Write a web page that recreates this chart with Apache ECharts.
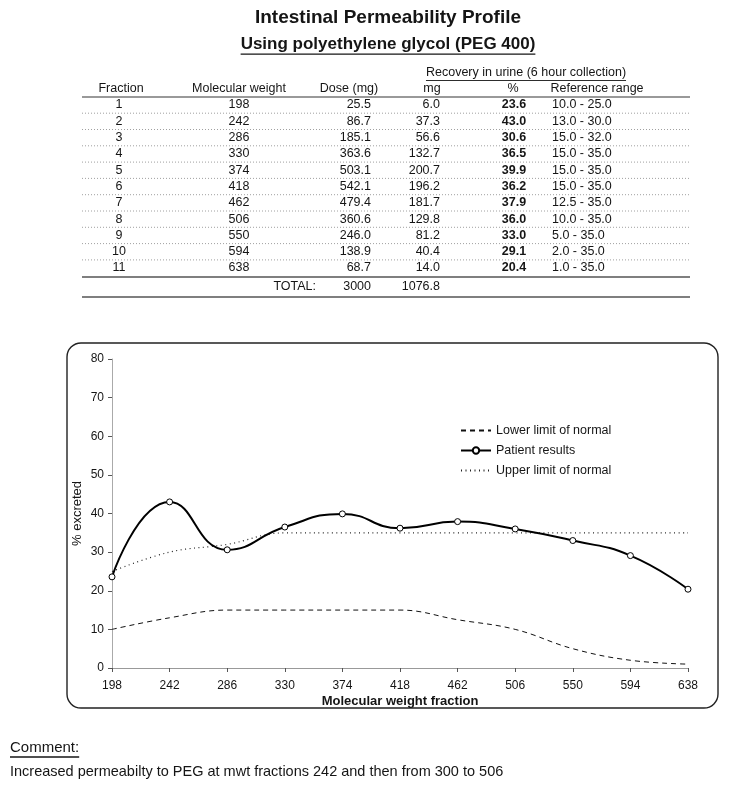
<!DOCTYPE html>
<html>
<head>
<meta charset="utf-8">
<script src="https://cdn.jsdelivr.net/npm/echarts@6/dist/echarts.min.js"></script>
<style>html,body{margin:0;padding:0;background:#fff}#c{width:731px;height:800px}</style>
</head>
<body>
<div id="c"></div>
<script>
// ---- data ----
const fractions = ['1','2','3','4','5','6','7','8','9','10','11'];
const molWeights = ['198','242','286','330','374','418','462','506','550','594','638'];
const doseMg = ['25.5','86.7','185.1','363.6','503.1','542.1','479.4','360.6','246.0','138.9','68.7'];
const recoveryMg = ['6.0','37.3','56.6','132.7','200.7','196.2','181.7','129.8','81.2','40.4','14.0'];
const recoveryPct = [23.6, 43.0, 30.6, 36.5, 39.9, 36.2, 37.9, 36.0, 33.0, 29.1, 20.4];
const refLow = [10.0, 13.0, 15.0, 15.0, 15.0, 15.0, 12.5, 10.0, 5.0, 2.0, 1.0];
const refHigh = [25.0, 30.0, 32.0, 35.0, 35.0, 35.0, 35.0, 35.0, 35.0, 35.0, 35.0];
const totalDose = '3000';
const totalRecovery = '1076.8';
const yTicks = [0, 10, 20, 30, 40, 50, 60, 70, 80];

const FONT = '"Liberation Sans", Arial, Helvetica, sans-serif';
const INK = '#151515';
const TS = 12.5; // table font size
const ctx = document.createElement('canvas').getContext('2d');
function tw(text, font){ ctx.font = font; return ctx.measureText(text).width; }

const g = [];
function txt(x, y, text, size, align, weight){
  g.push({type:'text', silent:true, style:{x:x, y:y, text:text, fill:INK,
    font:(weight||'normal') + ' ' + size + 'px ' + FONT,
    textAlign:align||'left', textVerticalAlign:'middle'}});
}
function hline(x1, x2, y, color, w, dash){
  g.push({type:'line', silent:true, shape:{x1:x1, y1:y, x2:x2, y2:y},
    style:{stroke:color, lineWidth:w, lineDash:dash||null}});
}
function underlined(cx, y, text, size, weight, align){
  const f = (weight||'normal') + ' ' + size + 'px ' + FONT;
  const w = tw(text, f);
  txt(cx, y, text, size, align||'center', weight);
  const x0 = (align === 'left') ? cx : cx - w/2;
  hline(x0, x0 + w, y + size*0.6, INK, size > 14 ? 1.3 : 0.9);
}

// titles
txt(388, 18, 'Intestinal Permeability Profile', 19, 'center', 'bold');
underlined(388, 44, 'Using polyethylene glycol (PEG 400)', 17, 'bold');
underlined(526, 73, 'Recovery in urine (6 hour collection)', TS);

// header
const hy = 89;
txt(121, hy, 'Fraction', TS, 'center');
txt(239, hy, 'Molecular weight', TS, 'center');
txt(349, hy, 'Dose (mg)', TS, 'center');
txt(432, hy, 'mg', TS, 'center');
txt(513, hy, '%', TS, 'center');
txt(597, hy, 'Reference range', TS, 'center');
const TL = 82, TR = 690;
hline(TL, TR, 97, '#777', 1.4);

const rowH = 16.3, row0 = 105;
for (let i = 0; i < fractions.length; i++){
  const y = row0 + i*rowH;
  txt(119, y, fractions[i], TS, 'center');
  txt(239, y, molWeights[i], TS, 'center');
  txt(371, y, doseMg[i], TS, 'right');
  txt(440, y, recoveryMg[i], TS, 'right');
  txt(514, y, recoveryPct[i].toFixed(1), TS, 'center', 'bold');
  txt(552, y, refLow[i].toFixed(1) + ' - ' + refHigh[i].toFixed(1), TS, 'left');
  if (i < fractions.length - 1) hline(TL, TR, y + 8.2, '#888', 0.8, [1, 2]);
}
const lastY = row0 + (fractions.length - 1)*rowH;
hline(TL, TR, lastY + 9, '#555', 1.4);
txt(316, lastY + 19, 'TOTAL:', TS, 'right');
txt(371, lastY + 19, totalDose, TS, 'right');
txt(440, lastY + 19, totalRecovery, TS, 'right');
hline(TL, TR, lastY + 29, '#555', 1.4);

// chart frame
g.push({type:'rect', silent:true, shape:{x:67, y:343, width:651, height:365, r:14},
  style:{fill:null, stroke:'#222', lineWidth:1.4}, z:-1});

// comment
underlined(10, 748, 'Comment:', 15, 'normal', 'left');
txt(10, 772, 'Increased permeabilty to PEG at mwt fractions 242 and then from 300 to 506', 14.5, 'left');

const chart = echarts.init(document.getElementById('c'), null, {renderer:'canvas'});
chart.setOption({
  backgroundColor:'#fff',
  animation:false,
  textStyle:{fontFamily:FONT, color:INK},
  grid:{left:112, right:43, top:359, bottom:132, containLabel:false},
  legend:{
    orient:'vertical', left:455, top:419, itemWidth:30, itemHeight:8, itemGap:7,
    textStyle:{fontSize:12.5, color:INK, fontFamily:FONT},
    data:['Lower limit of normal','Patient results','Upper limit of normal']
  },
  xAxis:{
    type:'category', data:molWeights, boundaryGap:false,
    name:'Molecular weight fraction', nameLocation:'middle', nameGap:27,
    nameTextStyle:{fontSize:13, fontWeight:'bold', color:INK, fontFamily:FONT},
    axisLine:{lineStyle:{color:'#999', width:1}},
    axisTick:{show:true, length:4, inside:false, lineStyle:{color:'#555'}},
    axisLabel:{fontSize:12, color:INK, margin:12, fontFamily:FONT},
    splitLine:{show:false}
  },
  yAxis:{
    type:'value', min:yTicks[0], max:yTicks[yTicks.length-1], interval:10,
    name:'% excreted', nameLocation:'middle', nameGap:28, nameRotate:90, nameMoveOverlap:false,
    nameTextStyle:{fontSize:13, color:INK, fontFamily:FONT},
    axisLine:{show:true, lineStyle:{color:'#aaa', width:1}},
    axisTick:{show:true, length:4, lineStyle:{color:'#555'}},
    axisLabel:{fontSize:12, color:INK, margin:8, fontFamily:FONT},
    splitLine:{show:false}
  },
  series:[
    {name:'Lower limit of normal', type:'line', data:refLow, smooth:0.4, symbol:'none',
      lineStyle:{color:'#111', width:1, type:[5,4]}, itemStyle:{color:'rgba(0,0,0,0)', borderWidth:0}, z:2},
    {name:'Patient results', type:'line', data:recoveryPct, smooth:0.5, symbol:'circle', symbolSize:6,
      showSymbol:true,
      lineStyle:{color:'#000', width:2}, itemStyle:{color:'#fff', borderColor:'#000', borderWidth:1}, z:4},
    {name:'Upper limit of normal', type:'line', data:refHigh, smooth:0.4, symbol:'none',
      lineStyle:{color:'#222', width:1.2, type:[1,3.5]}, itemStyle:{color:'rgba(0,0,0,0)', borderWidth:0}, z:3}
  ],
  graphic:g
});
</script>
</body>
</html>
